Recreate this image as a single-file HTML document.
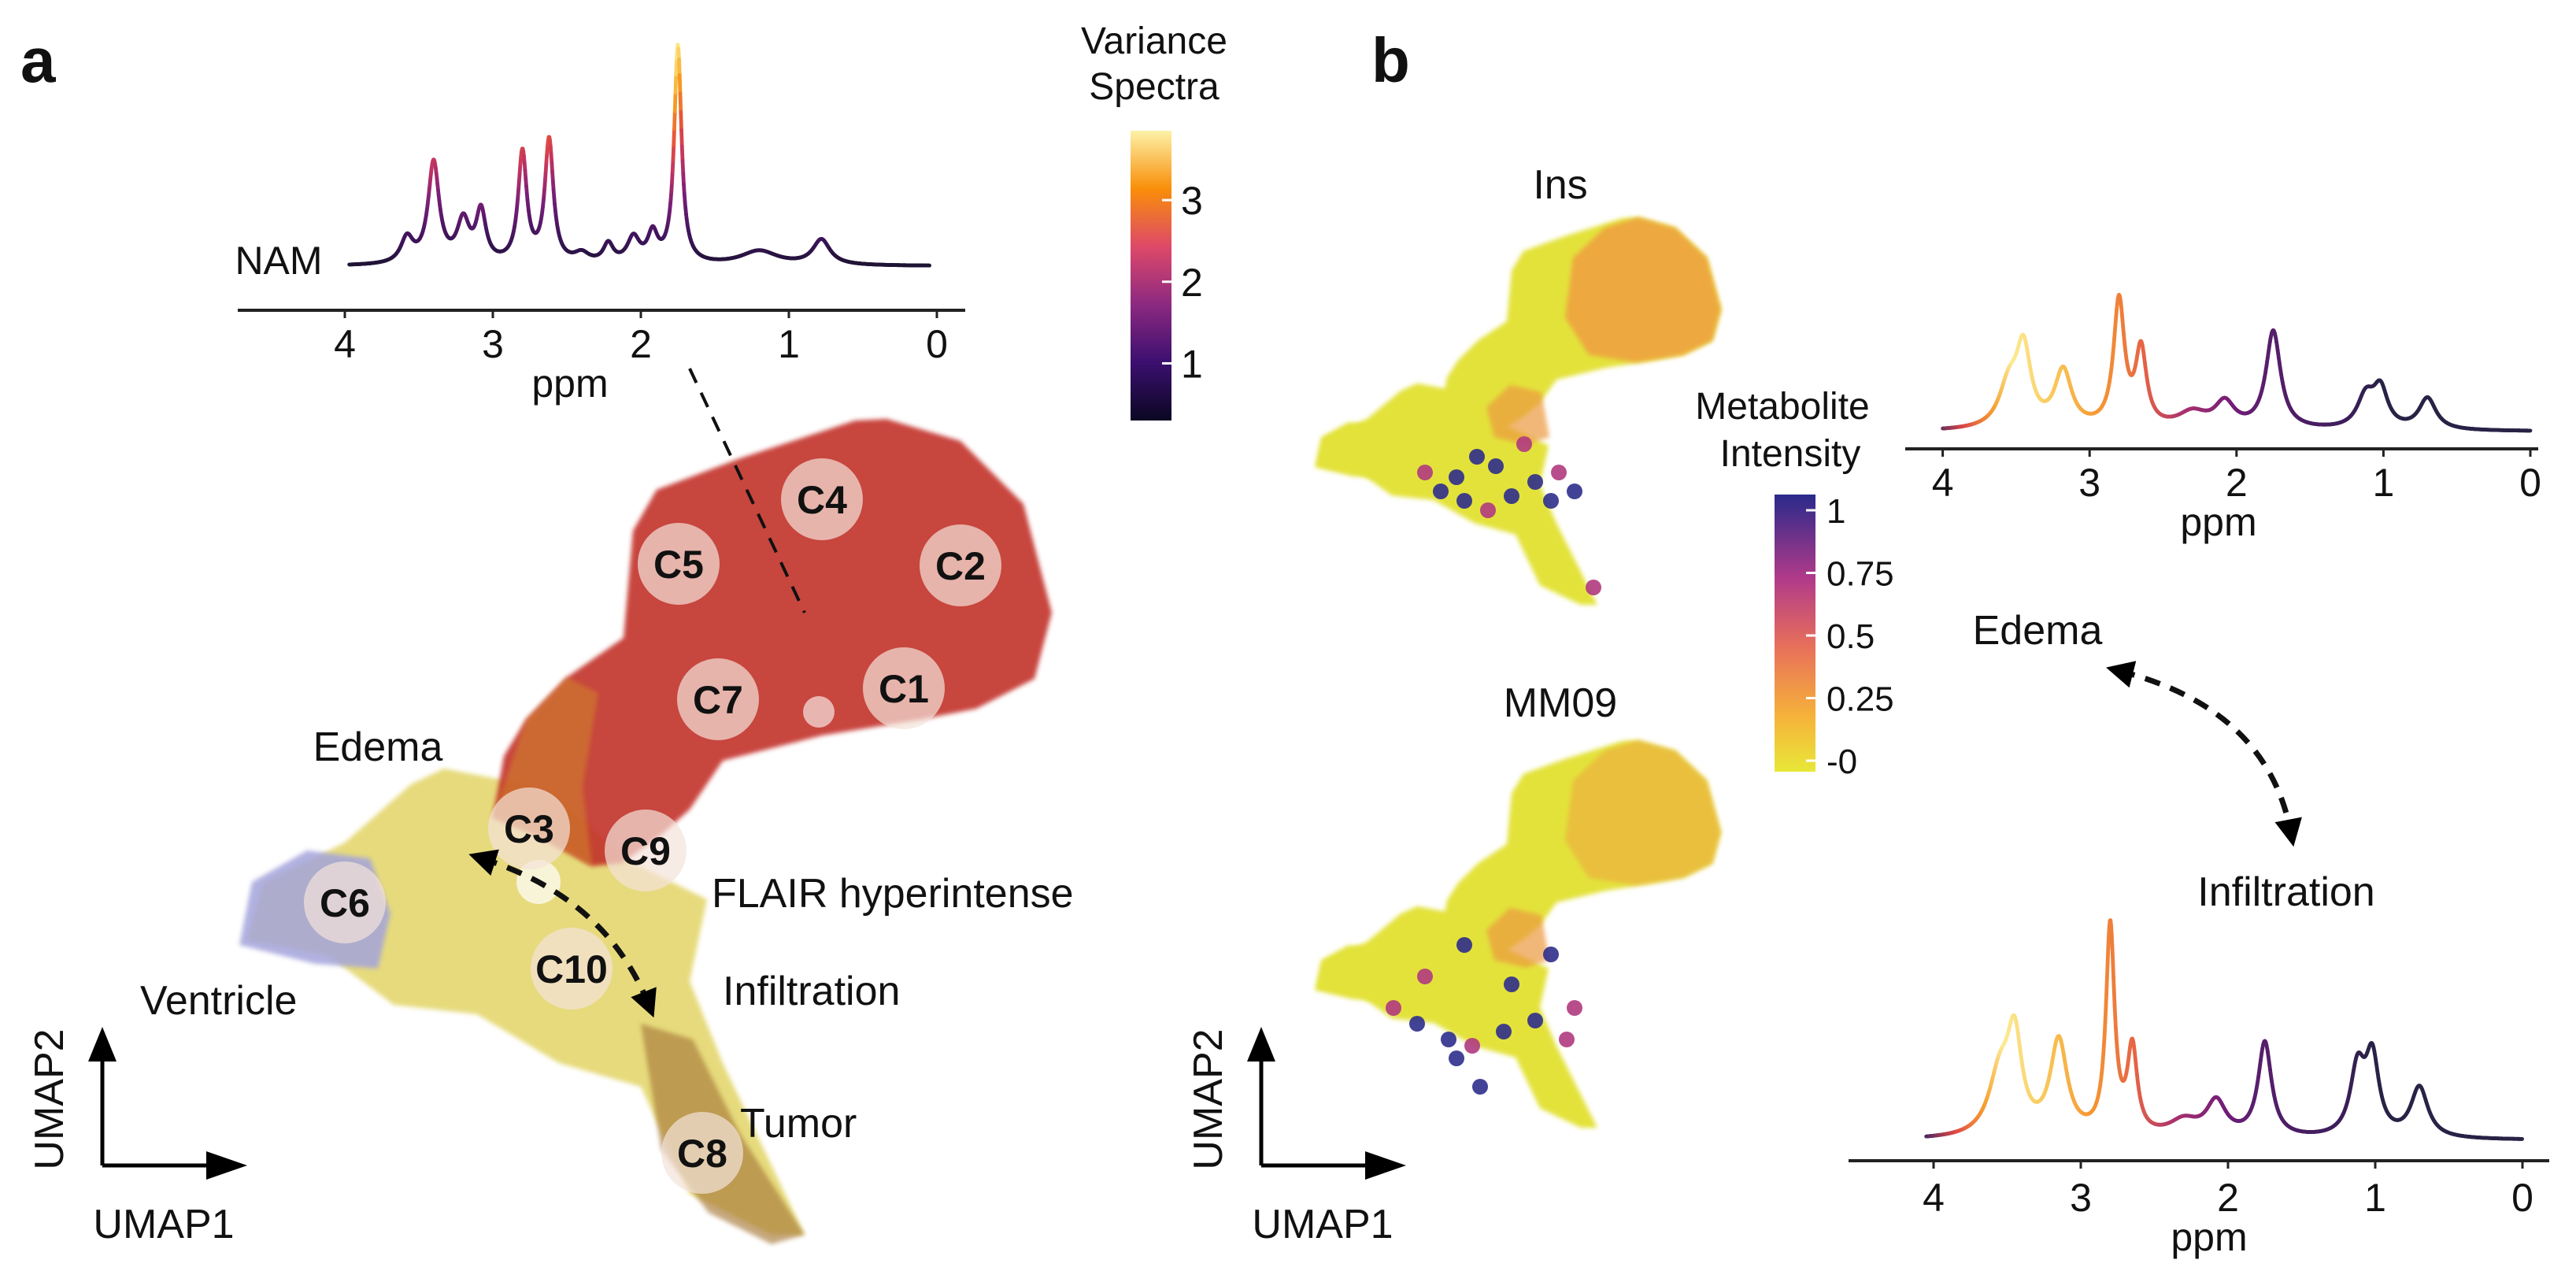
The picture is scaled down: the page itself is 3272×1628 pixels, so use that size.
<!DOCTYPE html>
<html><head><meta charset="utf-8">
<style>
html,body{margin:0;padding:0;background:#fff;}
svg{display:block;font-family:"Liberation Sans",Arial,sans-serif;}
</style></head>
<body>
<svg id="fig" width="3272" height="1628" viewBox="0 0 1636 814" xmlns="http://www.w3.org/2000/svg">
<defs>
<linearGradient id="infernoBar" x1="0" y1="1" x2="0" y2="0">
<stop offset="0" stop-color="#0a0722"/><stop offset="0.2" stop-color="#3b0f6f"/><stop offset="0.4" stop-color="#8c2981"/><stop offset="0.6" stop-color="#de4968"/><stop offset="0.8" stop-color="#f98e09"/><stop offset="1" stop-color="#fcf2a8"/>
</linearGradient>
<linearGradient id="plasmaBar" x1="0" y1="1" x2="0" y2="0">
<stop offset="0" stop-color="#e8e838"/><stop offset="0.2" stop-color="#f6b23a"/><stop offset="0.45" stop-color="#e8705a"/><stop offset="0.7" stop-color="#b03a8a"/><stop offset="1" stop-color="#2a2a8a"/>
</linearGradient>
<marker id="ah" viewBox="0 0 10 10" refX="5" refY="5" markerWidth="5" markerHeight="5" orient="auto-start-reverse"><path d="M0,0 L10,5 L0,10 z" fill="#000"/></marker>
<filter id="soft"><feGaussianBlur stdDeviation="1.5"/></filter>
</defs>
<g id="root"></g>
</svg>
<script>
// ---------- data ----------
const namPpm   = [3.58,3.40,3.20,3.08,2.80,2.62,2.40,2.22,2.05,1.92,1.75,1.20,0.78];
const namHeight= [16,  64,  26,  32,  70,  78,  6,   12,  16,  18,  138, 9,   16];
const namWidth = [0.05,0.045,0.05,0.04,0.035,0.035,0.06,0.04,0.05,0.04,0.03,0.15,0.07];

const edPpm    = [3.55,3.45,3.18,2.80,2.65,2.30,2.08,1.75,1.12,1.02,0.70];
const edHeight = [26,  48,  36,  80,  48,  10,  16,  62,  20,  24,  20];
const edWidth  = [0.08,0.06,0.07,0.045,0.045,0.12,0.08,0.06,0.07,0.06,0.07];

const infPpm   = [3.55,3.45,3.15,2.80,2.65,2.30,2.08,1.75,1.12,1.02,0.70];
const infHeight= [38,  58,  60,  132, 54,  10,  22,  60,  42,  48,  32];
const infWidth = [0.09,0.06,0.07,0.035,0.04,0.12,0.08,0.055,0.06,0.055,0.07];

const ppmTicks = [4,3,2,1,0];
const varTicks = [3,2,1];
const metTicks = ["1","0.75","0.5","0.25","-0"];
const metTickVals = [1,0.75,0.5,0.25,0];

const clusterNames = ["C4","C2","C5","C7","C1","C3","C9","C6","C10","C8"];
const clusterX = [522,610,431,456,574,336,410,219,363,446];
const clusterY = [317,359,358,444,437,526,540,573,615,732];

// ---------- helpers ----------
const NS="http://www.w3.org/2000/svg";
const root=document.getElementById('root');
function el(tag,attrs,parent){const e=document.createElementNS(NS,tag);for(const k in attrs)e.setAttribute(k,attrs[k]);(parent||root).appendChild(e);return e;}
function txt(s,x,y,size,opts,parent){const t=el('text',Object.assign({x:x,y:y,'font-size':size,fill:'#111'},opts||{}),parent);t.textContent=s;return t;}
function lerpColor(stops,t){t=Math.max(0,Math.min(1,t));for(let i=0;i<stops.length-1;i++){if(t<=stops[i+1][0]){const a=stops[i],b=stops[i+1];const f=(t-a[0])/(b[0]-a[0]);const ca=a[1],cb=b[1];return 'rgb('+[0,1,2].map(j=>Math.round(ca[j]+(cb[j]-ca[j])*f)).join(',')+')';}}const c=stops[stops.length-1][1];return 'rgb('+c.join(',')+')';}
const inferno=[[0,[30,20,50]],[0.12,[60,20,90]],[0.3,[120,30,120]],[0.45,[190,50,100]],[0.6,[230,80,60]],[0.8,[248,160,30]],[1,[252,235,140]]];
const plasmaPpm=[[0,[40,35,70]],[0.25,[40,35,70]],[0.3,[60,30,90]],[0.45,[90,30,110]],[0.5,[115,30,120]],[0.58,[170,50,110]],[0.65,[230,100,70]],[0.72,[245,150,50]],[0.8,[248,200,90]],[0.87,[252,235,150]],[0.9,[246,160,50]],[0.95,[220,70,70]],[1,[70,40,100]]];

function spectrum(name,ppmArr,hArr,wArr,xOf,base,pStart,pEnd,colorFn){
  const g=el('g',{});
  
  
  let prev=null;let maxH=0;const pts=[];
  for(let p=pStart;p>=pEnd-1e-9;p-=0.004){let h=0;for(let i=0;i<ppmArr.length;i++){const d=(p-ppmArr[i])/wArr[i];h+=hArr[i]/(1+d*d);}pts.push([p,h]);if(h>maxH)maxH=h;}
  for(const [p,h] of pts){const x=xOf(p),y=base-h;if(prev){el('line',{x1:prev[0],y1:prev[1],x2:x,y2:y,stroke:colorFn(p,h/maxH),'stroke-width':2.4,'stroke-linecap':'round'},g);}prev=[x,y];}
  return g;
}
function axis(name,x1,x2,y,ticks,xOf,labY,ppmX,ppmY){
  const g=el('g',{});
  
  
  el('line',{x1:x1,y1:y,x2:x2,y2:y,stroke:'#222','stroke-width':2},g);
  ticks.forEach(t=>{const x=xOf(t);el('line',{x1:x,y1:y,x2:x,y2:y+5,stroke:'#222','stroke-width':1.5},g);txt(String(t),x,labY,25,{'text-anchor':'middle'},g);});
  const pl=txt('ppm',ppmX,ppmY,25,{'text-anchor':'middle'},g);
  
  
}

// ---------- panel letters ----------
let t=txt('a',13,52,40,{'font-weight':'bold'});
t=txt('b',871,52,40,{'font-weight':'bold'});

// ---------- NAM spectrum ----------
const xA=p=>595-94*p;
spectrum('nam-spectrum',namPpm,namHeight,namWidth,xA,169,3.97,0.05,(p,f)=>lerpColor(inferno,f));
axis('nam-x-axis',151,613,197,ppmTicks,xA,227,362,252);
t=txt('NAM',177,174,25,{'text-anchor':'middle'});

(function(){
  const g=el('g',{});
  el('rect',{x:718,y:83,width:26,height:184,fill:'url(#infernoBar)'},g);
  const vy=v=>267-(v-0.3)/(3.85-0.3)*184;
  varTicks.forEach(v=>{const y=vy(v);el('line',{x1:738,y1:y,x2:744,y2:y,stroke:'#fff','stroke-width':1.5},g);txt(String(v),750,y+9,25,{},g);});
  txt('Variance',733,34,24,{'text-anchor':'middle'},g);
  txt('Spectra',733,63,24,{'text-anchor':'middle'},g);
})();

// ---------- main UMAP scatter ----------
const redPoly=[[563,266],[610,280],[650,320],[668,389],[657,431],[620,450],[584,457],[522,467],[459,483],[438,514],[420,530],[395,548],[376,550],[340,530],[313,519],[320,480],[334,457],[360,430],[396,405],[402,337],[417,311],[470,291],[543,267]];
const yelPoly=[[282,488],[334,498],[370,520],[396,545],[449,571],[438,623],[459,675],[490,740],[511,784],[490,784],[438,758],[407,690],[355,675],[303,644],[250,638],[209,607],[157,597],[167,561],[219,535],[261,498]];
const bluePoly=[[152,600],[160,560],[195,540],[235,545],[248,580],[240,615],[200,612]];
const tailPoly=[[407,650],[440,660],[470,720],[511,784],[490,790],[450,770],[420,730]];
(function(){
  const g=el('g',{});
  const P=a=>a.map(p=>p.join(',')).join(' ');
  el('polygon',{points:P(yelPoly),fill:'#dccb45',opacity:0.7,filter:'url(#soft)'},g);
  el('polygon',{points:P(tailPoly),fill:'#a87a3a',opacity:0.65,filter:'url(#soft)'},g);
  el('polygon',{points:P(bluePoly),fill:'#a4a4dc',opacity:0.85,filter:'url(#soft)'},g);
  el('polygon',{points:P(redPoly),fill:'#c2332c',opacity:0.9,filter:'url(#soft)'},g);
  el('polygon',{points:'313,519 334,457 360,430 380,440 370,500 376,550 340,530',fill:'#d0802c',opacity:0.6,filter:'url(#soft)'},g);
  el('circle',{cx:342,cy:560,r:14,fill:'#fff',opacity:0.7},g);
  el('circle',{cx:520,cy:452,r:10,fill:'#fff',opacity:0.6},g);
})();
clusterNames.forEach((n,i)=>{
  const g=el('g',{});
  
  
  el('circle',{cx:clusterX[i],cy:clusterY[i],r:26,fill:'#f4e2da',opacity:0.7},g);
  txt(n,clusterX[i],clusterY[i]+9,25,{'text-anchor':'middle','font-weight':'bold'},g);
});
[['Edema',240,483,'middle','edema-label'],['FLAIR hyperintense',452,576,'start','flair-label'],['Infiltration',459,638,'start','infiltration-label'],['Ventricle',89,644,'start','ventricle-label'],['Tumor',470,722,'start','tumor-label']].forEach(a=>{
  const e=txt(a[0],a[1],a[2],26,{'text-anchor':a[3]});
  
  
});
t=el('line',{x1:438,y1:234,x2:511,y2:389,stroke:'#111','stroke-width':2,'stroke-dasharray':'10,7'});

t=el('path',{d:'M306,545 Q385,570 412,638',fill:'none',stroke:'#111','stroke-width':3.5,'stroke-dasharray':'10,7','marker-start':'url(#ah)','marker-end':'url(#ah)'});


function umapAxes(name,x0,y0,labX){
  const g=el('g',{});
  el('line',{x1:x0,y1:y0,x2:x0,y2:y0-70,stroke:'#000','stroke-width':2.5},g);
  el('polygon',{points:(x0-9)+','+(y0-66)+' '+(x0+9)+','+(y0-66)+' '+x0+','+(y0-88),fill:'#000'},g);
  el('line',{x1:x0,y1:y0,x2:x0+70,y2:y0,stroke:'#000','stroke-width':2.5},g);
  el('polygon',{points:(x0+66)+','+(y0-9)+' '+(x0+66)+','+(y0+9)+' '+(x0+92)+','+y0,fill:'#000'},g);
  txt('UMAP2',labX,698,26,{'text-anchor':'middle',transform:'rotate(-90 '+labX+' 698) translate(0 9)'},g);
  txt('UMAP1',labX+73,786,26,{'text-anchor':'middle'},g);
}
umapAxes('umap-axes-a',65,740,31);
umapAxes('umap-axes-b',801,740,767);

// ---------- panel b feature plots (same embedding, scaled) ----------
const insDotsX=[905,915,930,945,960,975,990,1000,925,1012,950,938,968,985];
const insDotsY=[300,312,318,324,315,306,300,312,303,373,296,290,282,318];
const mmDotsX=[885,900,920,935,955,975,995,960,985,1000,925,940,905,930];
const mmDotsY=[640,650,660,664,655,648,660,625,606,640,672,690,620,600];
function feature(name,dy,dotsX,dotsY,orangeOpacity){
  const g=el('g',{});
  const tx=x=>835+(x-152)*0.5, ty=y=>138+dy+(y-266)*0.475;
  const P=a=>a.map(p=>tx(p[0])+','+ty(p[1])).join(' ');
  el('polygon',{points:P(yelPoly),fill:'#e3e23a',filter:'url(#soft)'},g);
  el('polygon',{points:P(bluePoly),fill:'#e3e23a',filter:'url(#soft)'},g);
  el('polygon',{points:P(redPoly),fill:'#e3e23a',filter:'url(#soft)'},g);
  el('polygon',{points:P([[563,266],[610,280],[650,320],[668,389],[657,431],[620,450],[560,460],[500,450],[470,400],[480,320],[520,280]]),fill:'#efa340',opacity:orangeOpacity,filter:'url(#soft)'},g);
  el('polygon',{points:P([[400,490],[440,500],[450,560],[420,570],[380,560],[370,520]]),fill:'#ec9a40',opacity:0.7,filter:'url(#soft)'},g);
  dotsX.forEach((x,i)=>{
    const c=el('circle',{cx:x,cy:dotsY[i],r:5,fill:i%3===0?'#b03a80':'#2e2e8c',opacity:0.9},g);
    
    
  });
}
feature('ins-scatter',0,insDotsX,insDotsY,0.9);
feature('mm09-scatter',332,mmDotsX,mmDotsY,0.55);
t=txt('Ins',991,126,26,{'text-anchor':'middle'});
t=txt('MM09',991,455,26,{'text-anchor':'middle'});

(function(){
  const g=el('g',{});
  el('rect',{x:1127,y:314,width:26,height:176,fill:'url(#plasmaBar)'},g);
  const my=v=>483-v*159;
  metTicks.forEach((s,i)=>{const y=my(metTickVals[i]);el('line',{x1:1147,y1:y,x2:1153,y2:y,stroke:'#fff','stroke-width':1.5},g);txt(s,1160,y+8,22,{},g);});
  txt('Metabolite',1132,266,24,{'text-anchor':'middle'},g);
  txt('Intensity',1137,296,24,{'text-anchor':'middle'},g);
})();

const xB1=p=>1607-93.3*p;
const xB2=p=>1602-93.5*p;
const bColor=(p,f)=>lerpColor(plasmaPpm,p/4.05);
spectrum('edema-spectrum',edPpm,edHeight,edWidth,xB1,274,4.0,0.0,bColor);
axis('edema-x-axis',1210,1612,285,ppmTicks,xB1,315,1409,340);
spectrum('infiltration-spectrum',infPpm,infHeight,infWidth,xB2,724,4.05,0.0,bColor);
axis('infiltration-x-axis',1174,1619,737,ppmTicks,xB2,769,1403,794);
t=txt('Edema',1294,409,26,{'text-anchor':'middle'});
t=txt('Infiltration',1452,575,26,{'text-anchor':'middle'});
t=el('path',{d:'M1346,426 Q1440,450 1455,529',fill:'none',stroke:'#111','stroke-width':3.5,'stroke-dasharray':'10,7','marker-start':'url(#ah)','marker-end':'url(#ah)'});

</script>
</body></html>
